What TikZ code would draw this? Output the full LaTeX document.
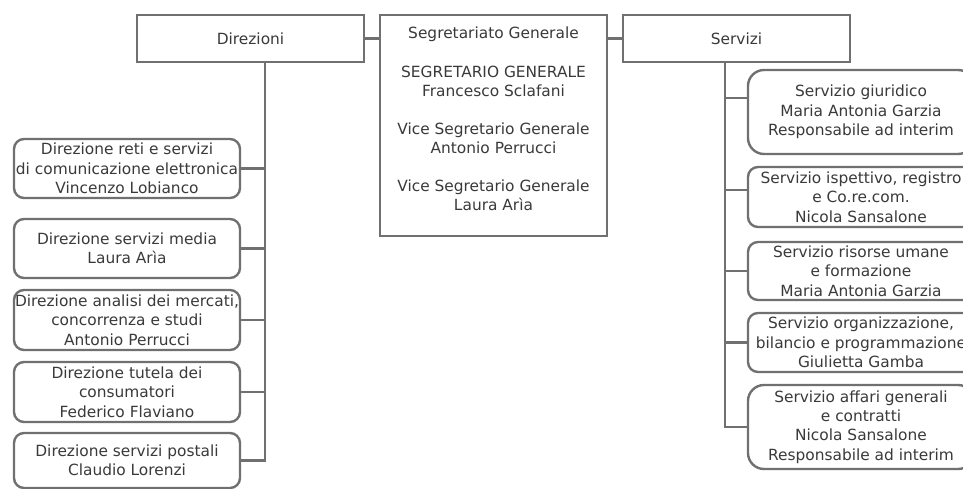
\documentclass[tikz,border=0pt]{standalone}
\usepackage{fontspec}
\setmainfont{DejaVu Sans}
\usetikzlibrary{positioning,calc}
\definecolor{linegray}{RGB}{112,112,112}
\definecolor{textgray}{RGB}{58,58,58}
\tikzset{
  head/.style={draw=linegray, line width=2.6pt, fill=white, align=center,
    inner sep=0pt, minimum width=227, text=textgray,
    font=\fontsize{15.4}{19.1}\selectfont},
  unit/.style={draw=linegray, line width=2.4pt, fill=white, align=center,
    inner sep=0pt, minimum width=226, rounded corners=10pt, text=textgray,
    font=\fontsize{15.4}{19.3}\selectfont},
  link/.style={draw=linegray, line width=2.6pt}
}
\begin{document}
\begin{tikzpicture}[x=1pt,y=-1pt]
\useasboundingbox (0,0) rectangle (963,489);
\clip (0,0) rectangle (963,489);

% Top level
\node[head, minimum height=47] (dir) at (250.5,38.5) {Direzioni};
\node[head, minimum height=221] (segr) at (493.5,125.5)
  {Segretariato Generale\\[19.1pt]SEGRETARIO GENERALE\\Francesco Sclafani\\[19.1pt]Vice Segretario Generale\\Antonio Perrucci\\[19.1pt]Vice Segretario Generale\\Laura Arìa\\[-6pt]\mbox{}};
\node[head, minimum height=47] (serv) at (736.5,38.5) {Servizi};

% Direzioni
\node[unit, minimum height=59] (dr1) at (127,168.5)
  {Direzione reti e servizi\\di comunicazione elettronica\\Vincenzo Lobianco};
\node[unit, minimum height=59] (dr2) at (127,248.5)
  {Direzione servizi media\\Laura Arìa};
\node[unit, minimum height=60] (dr3) at (127,320)
  {Direzione analisi dei mercati,\\concorrenza e studi\\Antonio Perrucci};
\node[unit, minimum height=60] (dr4) at (127,392)
  {Direzione tutela dei\\consumatori\\Federico Flaviano};
\node[unit, minimum height=55] (dr5) at (127,460.5)
  {Direzione servizi postali\\Claudio Lorenzi};

% Servizi
\node[unit, minimum height=84, rounded corners=16pt] (sv1) at (861,112)
  {Servizio giuridico\\Maria Antonia Garzia\\Responsabile ad interim};
\node[unit, minimum height=60] (sv2) at (861,197)
  {Servizio ispettivo, registro\\e Co.re.com.\\Nicola Sansalone};
\node[unit, minimum height=58] (sv3) at (861,271)
  {Servizio risorse umane\\e formazione\\Maria Antonia Garzia};
\node[unit, minimum height=59] (sv4) at (861,342.5)
  {Servizio organizzazione,\\bilancio e programmazione\\Giulietta Gamba};
\node[unit, minimum height=84, rounded corners=16pt] (sv5) at (861,427)
  {Servizio affari generali\\e contratti\\Nicola Sansalone\\Responsabile ad interim};

% Connectors
\draw[link] (dir.east) -- (dir.east -| segr.west);
\draw[link] (segr.east |- serv.west) -- (serv.west);
\foreach \n in {dr1,dr2,dr3,dr4,dr5}{\draw[link] ([xshift=14.5pt]dir.south) |- (\n.east);}
\draw[link] ([xshift=-11.5pt]serv.south) |- ([yshift=14pt]sv1.west);
\draw[link] ([xshift=-11.5pt]serv.south) |- ([yshift=7pt]sv2.west);
\foreach \n in {sv3,sv4,sv5}{\draw[link] ([xshift=-11.5pt]serv.south) |- (\n.west);}

\end{tikzpicture}
\end{document}
